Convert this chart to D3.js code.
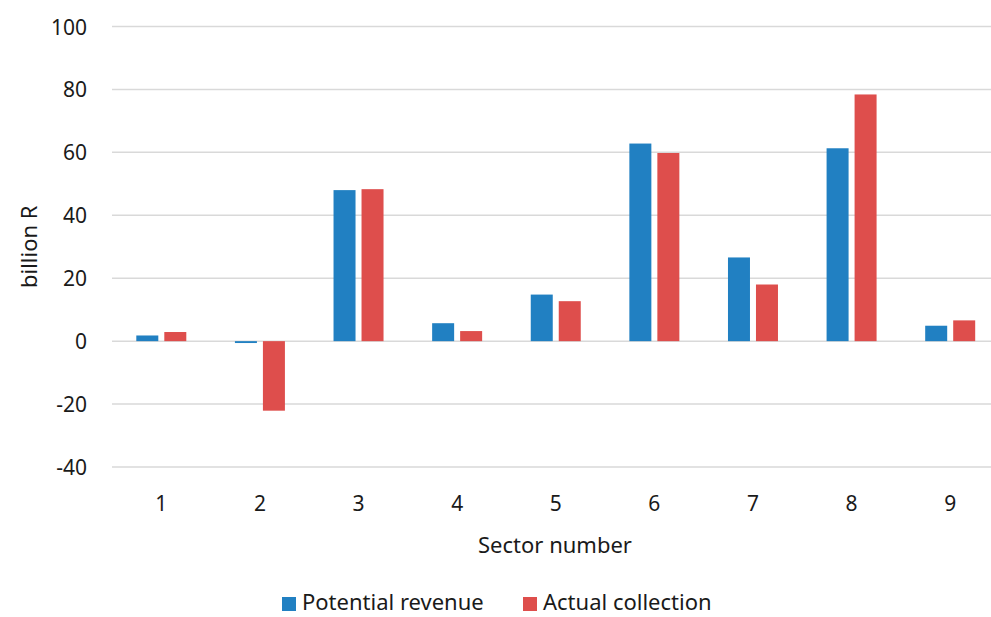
<!DOCTYPE html>
<html>
<head>
<meta charset="utf-8">
<script src="https://cdn.jsdelivr.net/npm/d3@7"></script>
<style>
  html, body { margin: 0; padding: 0; background: #fff; }
  svg { display: block; }
  text { font-family: "Noto Sans", "Open Sans", sans-serif; fill: #1a1a1a; }
</style>
</head>
<body>
<svg id="chart" width="991" height="617"></svg>
<script>
const categories = ["1","2","3","4","5","6","7","8","9"];
const seriesNames = ["Potential revenue", "Actual collection"];
const potentialRevenue = [1.8, -0.6, 48.0, 5.7, 14.8, 62.8, 26.6, 61.3, 4.9];
const actualCollection = [2.9, -22.1, 48.3, 3.2, 12.7, 59.8, 18.0, 78.4, 6.6];
const yTicks = [-40, -20, 0, 20, 40, 60, 80, 100];
const colors = ["#2180c2", "#de4e4c"];

const svg = d3.select("#chart");
const W = 991, H = 617;
const x0 = 112, x1 = 999.5, yTop = 26.5, yBot = 467;

const x = d3.scaleBand().domain(categories).range([x0, x1]).paddingInner(0).paddingOuter(0);
const y = d3.scaleLinear().domain([-40, 100]).range([yBot, yTop]);

// gridlines
svg.append("g").selectAll("line").data(yTicks).join("line")
  .attr("x1", x0).attr("x2", W)
  .attr("y1", d => y(d)).attr("y2", d => y(d))
  .attr("stroke", "#d9d9d9").attr("stroke-width", 1.5);

// y tick labels
svg.append("g").selectAll("text").data(yTicks).join("text")
  .attr("x", 87).attr("y", d => y(d))
  .attr("text-anchor", "end").attr("dominant-baseline", "central")
  .style("font-size", "21px")
  .text(d => d);

// bars
const barW = 22, gap = 6;
const series = [potentialRevenue, actualCollection];
series.forEach((vals, si) => {
  svg.append("g").selectAll("rect").data(vals).join("rect")
    .attr("x", (d, i) => x(categories[i]) + x.bandwidth() / 2 - (barW + gap / 2) + si * (barW + gap))
    .attr("y", d => y(Math.max(0, d)))
    .attr("width", barW)
    .attr("height", d => Math.abs(y(d) - y(0)))
    .attr("fill", colors[si]);
});

// x tick labels
svg.append("g").selectAll("text").data(categories).join("text")
  .attr("x", d => x(d) + x.bandwidth() / 2)
  .attr("y", 503)
  .attr("text-anchor", "middle").attr("dominant-baseline", "central")
  .style("font-size", "21px")
  .text(d => d);

// axis titles
svg.append("text")
  .attr("x", 555).attr("y", 544)
  .attr("text-anchor", "middle").attr("dominant-baseline", "central")
  .style("font-size", "22px")
  .text("Sector number");

svg.append("text")
  .attr("transform", "translate(28," + y(30) + ") rotate(-90)")
  .attr("text-anchor", "middle").attr("dominant-baseline", "central")
  .style("font-size", "22px")
  .text("billion R");

// legend
const legendItems = [{name: seriesNames[0], x: 282}, {name: seriesNames[1], x: 523}];
const lg = svg.append("g");
legendItems.forEach((it, i) => {
  lg.append("rect").attr("x", it.x).attr("y", 597).attr("width", 14).attr("height", 14).attr("fill", colors[i]);
  lg.append("text").attr("x", it.x + 20).attr("y", 610)
    .style("font-size", "22px")
    .text(it.name);
});
</script>
</body>
</html>
